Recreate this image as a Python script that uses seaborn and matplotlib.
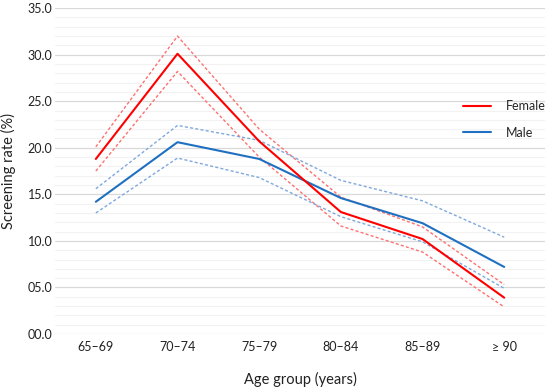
import matplotlib
matplotlib.use("Agg")
import matplotlib.pyplot as plt
from matplotlib.lines import Line2D
from matplotlib.ticker import MultipleLocator, FormatStrFormatter
import pandas as pd
import seaborn as sns

age_groups = ["65\u201369", "70\u201374", "75\u201379", "80\u201384", "85\u201389", "\u2265 90"]

female = [18.8, 30.1, 20.7, 13.1, 10.2, 3.9]
female_upper = [20.1, 32.0, 22.0, 14.7, 11.5, 5.3]
female_lower = [17.5, 28.2, 19.0, 11.6, 8.8, 2.9]

male = [14.2, 20.6, 18.8, 14.6, 11.9, 7.2]
male_upper = [15.6, 22.4, 20.8, 16.5, 14.3, 10.4]
male_lower = [13.0, 18.9, 16.8, 12.6, 9.9, 4.9]

series = {
    "Female": female,
    "Female upper": female_upper,
    "Female lower": female_lower,
    "Male": male,
    "Male upper": male_upper,
    "Male lower": male_lower,
}

rows = []
for name, vals in series.items():
    for age, v in zip(age_groups, vals):
        rows.append({"age": age, "rate": v, "series": name})
df = pd.DataFrame(rows)

sns.set_style("white")
plt.rcParams["font.family"] = ["Lato", "DejaVu Sans"]

red = "#FF0000"
red_ci = "#FF7070"
blue = "#1F70C1"
blue_ci = "#7FA8DE"
dot = (0, (2.2, 1.6))

styles = {
    "Female": dict(color=red, lw=1.5, ls="-"),
    "Female upper": dict(color=red_ci, lw=1.0, ls=dot),
    "Female lower": dict(color=red_ci, lw=1.0, ls=dot),
    "Male": dict(color=blue, lw=1.5, ls="-"),
    "Male upper": dict(color=blue_ci, lw=1.0, ls=dot),
    "Male lower": dict(color=blue_ci, lw=1.0, ls=dot),
}

fig = plt.figure(figsize=(5.5, 3.87), dpi=100)
ax = fig.add_axes([0.1, 0.137, 0.891, 0.842])

# confidence bounds first, main lines on top
for name in ["Female upper", "Female lower", "Male upper", "Male lower", "Male", "Female"]:
    st = styles[name]
    sns.lineplot(
        data=df[df["series"] == name], x="age", y="rate", ax=ax, sort=False,
        color=st["color"], linewidth=st["lw"], linestyle=st["ls"], legend=False,
    )

ax.set_xlim(-0.5, 5.5)
ax.set_ylim(0, 35)
ax.yaxis.set_major_locator(MultipleLocator(5))
ax.yaxis.set_minor_locator(MultipleLocator(1))
ax.yaxis.set_major_formatter(FormatStrFormatter("%04.1f"))
ax.grid(axis="y", which="major", color="#D9D9D9", lw=0.9)
ax.grid(axis="y", which="minor", color="#F2F2F2", lw=0.8)
ax.set_axisbelow(True)
for s in ax.spines.values():
    s.set_visible(False)
ax.tick_params(axis="both", which="both", length=0, labelsize=9, colors="#222222")
ax.tick_params(axis="x", pad=5)
ax.tick_params(axis="y", pad=2)

ax.set_xlabel("Age group (years)", fontsize=10.5, labelpad=14, color="#222222")
ax.set_ylabel("Screening rate (%)", fontsize=10.5, labelpad=8, color="#222222")

handles = [
    Line2D([0], [0], color=red, lw=1.5),
    Line2D([0], [0], color=blue, lw=1.5),
]
leg = ax.legend(handles, ["Female", "Male"], loc="upper left",
                bbox_to_anchor=(0.81, 0.752), frameon=False, fontsize=9,
                handlelength=2.2, handletextpad=1.2, labelspacing=1.15)

fig.savefig("out.png", dpi=100)
